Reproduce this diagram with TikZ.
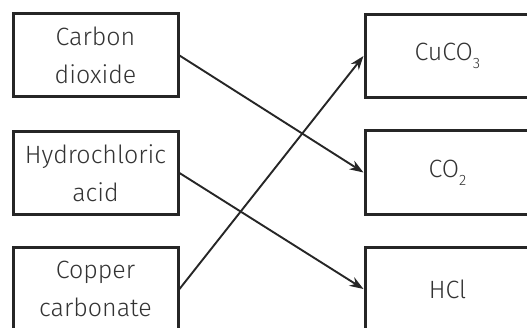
\documentclass[tikz,border=0pt]{standalone}
\usepackage{fontspec}
\setmainfont{Fira Sans Light}
\usetikzlibrary{arrows.meta}
\definecolor{txt}{HTML}{333333}
\definecolor{ln}{HTML}{262626}
\newcommand{\sub}[1]{\raisebox{-0.33em}{\fontsize{15}{15}\selectfont #1}}
\begin{document}
\begin{tikzpicture}[x=1pt,y=1pt,
  box/.style={draw=ln,line width=3pt,minimum width=165pt,minimum height=83pt,
    align=center,text=txt,font=\fontsize{25}{38}\selectfont,inner sep=0pt},
  arr/.style={draw=ln,line width=1.9pt,-{Stealth[length=14pt,width=10pt]}}]
\useasboundingbox (0,0) rectangle (527,327);
\clip (0,0) rectangle (527,327);
\node[box] (l1) at (95.5,271.5) {Carbon\\dioxide};
\node[box] (l2) at (95.5,154) {Hydrochloric\\acid};
\node[box] (l3) at (95.5,38) {Copper\\carbonate};
\node[box] (r1) at (447.5,271) {CuCO\sub{3}};
\node[box] (r2) at (447.5,154.5) {CO\sub{2}};
\node[box] (r3) at (447.5,38) {HCl};
\draw[arr] (l1.east) -- (r2.west);
\draw[arr] (l2.east) -- (r3.west);
\draw[arr] (l3.east) -- (r1.west);
\end{tikzpicture}
\end{document}
